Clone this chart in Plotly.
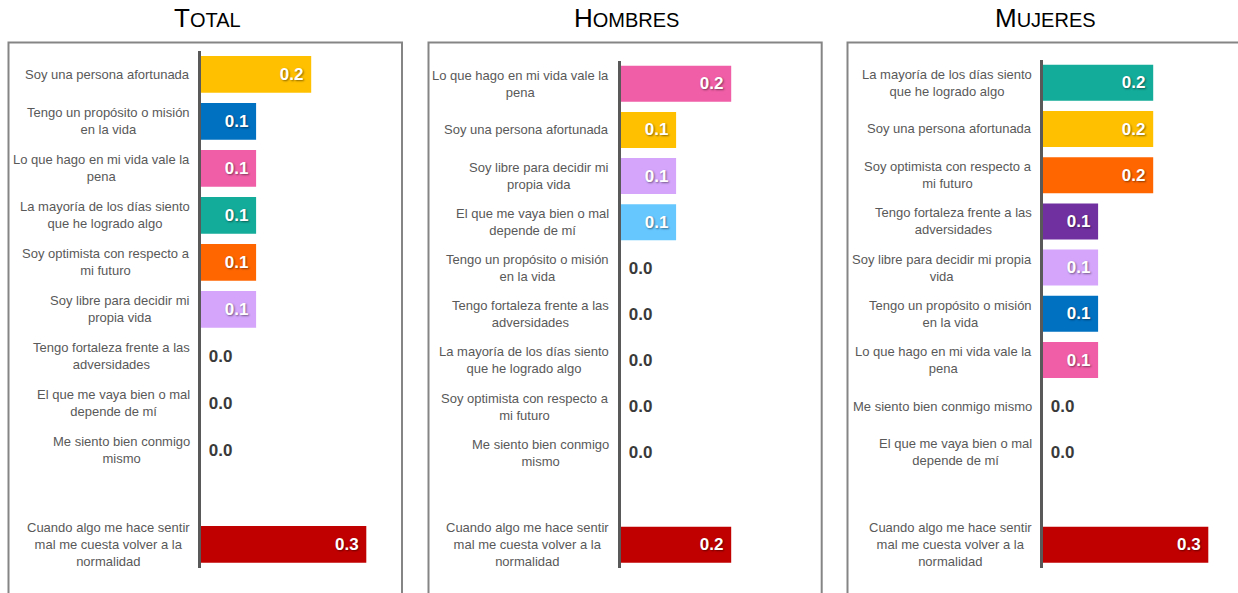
import plotly.graph_objects as go

# ---------------- data ----------------
panel_titles = ["TOTAL", "HOMBRES", "MUJERES"]

total_labels = [
    "Soy una persona afortunada",
    "Tengo un propósito o misión<br>en la vida",
    "Lo que hago en mi vida vale la<br>pena",
    "La mayoría de los días siento<br>que he logrado algo",
    "Soy optimista con respecto a<br>mi futuro",
    "Soy libre para decidir mi<br>propia vida",
    "Tengo fortaleza frente a las<br>adversidades",
    "El que me vaya bien o mal<br>depende de mí",
    "Me siento bien conmigo<br>mismo",
    "",
    "Cuando algo me hace sentir<br>mal me cuesta volver a la<br>normalidad",
]
total_values = [0.2, 0.1, 0.1, 0.1, 0.1, 0.1, 0.0, 0.0, 0.0, None, 0.3]

hombres_labels = [
    "Lo que hago en mi vida vale la<br>pena",
    "Soy una persona afortunada",
    "Soy libre para decidir mi<br>propia vida",
    "El que me vaya bien o mal<br>depende de mí",
    "Tengo un propósito o misión<br>en la vida",
    "Tengo fortaleza frente a las<br>adversidades",
    "La mayoría de los días siento<br>que he logrado algo",
    "Soy optimista con respecto a<br>mi futuro",
    "Me siento bien conmigo<br>mismo",
    "",
    "Cuando algo me hace sentir<br>mal me cuesta volver a la<br>normalidad",
]
hombres_values = [0.2, 0.1, 0.1, 0.1, 0.0, 0.0, 0.0, 0.0, 0.0, None, 0.2]

mujeres_labels = [
    "La mayoría de los días siento<br>que he logrado algo",
    "Soy una persona afortunada",
    "Soy optimista con respecto a<br>mi futuro",
    "Tengo fortaleza frente a las<br>adversidades",
    "Soy libre para decidir mi propia<br>vida",
    "Tengo un propósito o misión<br>en la vida",
    "Lo que hago en mi vida vale la<br>pena",
    "Me siento bien conmigo mismo",
    "El que me vaya bien o mal<br>depende de mí",
    "",
    "Cuando algo me hace sentir<br>mal me cuesta volver a la<br>normalidad",
]
mujeres_values = [0.2, 0.2, 0.2, 0.1, 0.1, 0.1, 0.1, 0.0, 0.0, None, 0.3]

item_colors = {
    "Soy una persona afortunada": "#FFC000",
    "Tengo un propósito o misión en la vida": "#0070C0",
    "Lo que hago en mi vida vale la pena": "#EF5EA6",
    "La mayoría de los días siento que he logrado algo": "#13AB99",
    "Soy optimista con respecto a mi futuro": "#FF6600",
    "Soy libre para decidir mi propia vida": "#D4A5FB",
    "Tengo fortaleza frente a las adversidades": "#7030A0",
    "El que me vaya bien o mal depende de mí": "#66C7FF",
    "Me siento bien conmigo mismo": "#A6A6A6",
    "Cuando algo me hace sentir mal me cuesta volver a la normalidad": "#C00000",
}

# ---------------- layout helpers ----------------
W, H = 1238, 593
PX_PER_UNIT = 551.0


def fx(p):
    return p / W


def fy(p):
    return 1 - p / H


LABEL_FONT = "Liberation Sans, Arial, sans-serif"
VALUE_FONT = "Liberation Sans, Arial, sans-serif"

panels = [
    dict(title=panel_titles[0], labels=total_labels, values=total_values,
         xdom=(201, 400), ydom=(50.8, 567.8), label_right=191, title_x=207,
         box=(8.5, 42.5, 402, 620)),
    dict(title=panel_titles[1], labels=hombres_labels, values=hombres_values,
         xdom=(621, 820), ydom=(60.8, 567.9), label_right=610, title_x=626.5,
         box=(428.5, 42.5, 821.7, 620)),
    dict(title=panel_titles[2], labels=mujeres_labels, values=mujeres_values,
         xdom=(1043, 1238), ydom=(59.7, 567.9), label_right=1032.5, title_x=1045.5,
         box=(847.5, 42.5, 1260, 620)),
]

fig = go.Figure()
annotations = []
shapes = []

for i, p in enumerate(panels):
    n = i + 1
    xa = "x" if n == 1 else f"x{n}"
    ya = "y" if n == 1 else f"y{n}"
    cats = [lab if lab else " " for lab in p["labels"]]

    xs, ys, cols, tpos, tcol, ttmp, tshadow = [], [], [], [], [], [], []
    for lab, cat, v in zip(p["labels"], cats, p["values"]):
        if v is None:
            continue
        key = lab.replace("<br>", " ")
        xs.append(v)
        ys.append(cat)
        cols.append(item_colors[key])
        if v > 0:
            tpos.append("inside")
            tcol.append("#FFFFFF")
            ttmp.append("%{x:.1f}\u00a0")
            tshadow.append("1px 1px 2px rgba(0,0,0,0.45)")
        else:
            tpos.append("outside")
            tcol.append("#3A3A3A")
            ttmp.append("\u00a0%{x:.1f}")
            tshadow.append("none")

    fig.add_trace(go.Bar(
        x=xs, y=ys, orientation="h",
        marker=dict(color=cols, line=dict(width=0)),
        texttemplate=ttmp, textposition=tpos,
        insidetextanchor="end",
        textfont=dict(family=VALUE_FONT, size=17, color=tcol,
                      weight="bold", shadow=tshadow),
        cliponaxis=False, showlegend=False, hoverinfo="skip",
        xaxis=xa, yaxis=ya,
    ))

    xw = p["xdom"][1] - p["xdom"][0]
    fig.update_layout(**{
        ("xaxis" if n == 1 else f"xaxis{n}"): dict(
            domain=[fx(p["xdom"][0]), fx(p["xdom"][1])],
            range=[0, xw / PX_PER_UNIT], visible=False, fixedrange=True,
            anchor=ya,
        ),
        ("yaxis" if n == 1 else f"yaxis{n}"): dict(
            domain=[fy(p["ydom"][1]), fy(p["ydom"][0])],
            type="category", categoryorder="array", categoryarray=cats,
            range=[len(cats) - 0.5, -0.5],
            showticklabels=False, ticks="", showgrid=False, zeroline=False,
            showline=True, linecolor="#595959", linewidth=3,
            anchor=xa, fixedrange=True,
        ),
    })

    for lab, cat in zip(p["labels"], cats):
        if not lab:
            continue
        annotations.append(dict(
            x=fx(p["label_right"]), xref="paper", xanchor="right",
            y=cat, yref=ya, yanchor="middle",
            text=lab, showarrow=False, align="center", borderpad=0,
            font=dict(family=LABEL_FONT, size=13, color="#595959"),
        ))

    t = p["title"]
    annotations.append(dict(
        x=fx(p["title_x"]), xref="paper", xanchor="center",
        y=fy(18), yref="paper", yanchor="middle",
        text=f"{t[0]}<span style='font-size:20px'>{t[1:]}</span>",
        showarrow=False,
        font=dict(family="Liberation Sans, Arial, sans-serif", size=26, color="#000000"),
    ))

    x0, y0, x1, y1 = p["box"]
    shapes.append(dict(
        type="rect", xref="paper", yref="paper",
        x0=fx(x0), x1=fx(x1), y0=fy(y1), y1=fy(y0),
        line=dict(color="#858585", width=2), fillcolor="rgba(0,0,0,0)",
        layer="below",
    ))

fig.update_layout(
    width=W, height=H,
    margin=dict(l=0, r=0, t=0, b=0),
    paper_bgcolor="#FFFFFF", plot_bgcolor="rgba(0,0,0,0)",
    bargap=0.22,
    annotations=annotations, shapes=shapes,
)

fig.write_html(
    "out.html",
    config={"displayModeBar": False},
    post_script="document.body.style.margin='0';document.body.style.overflow='hidden';",
)
